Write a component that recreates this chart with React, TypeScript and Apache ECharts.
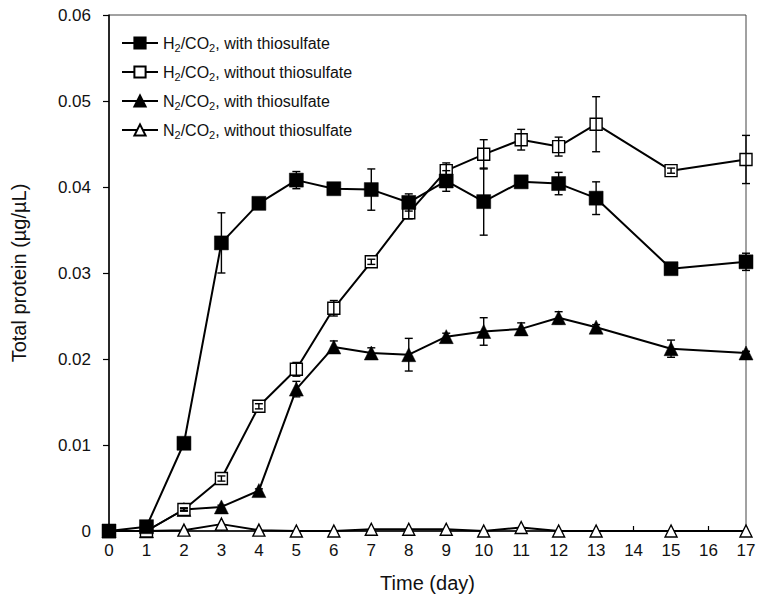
import React, { useEffect, useRef } from "react";
import * as echarts from "echarts";

const days = [0, 1, 2, 3, 4, 5, 6, 7, 8, 9, 10, 11, 12, 13, 15, 17];

const h2With = [0, 0.0005, 0.0102, 0.0335, 0.0381, 0.0408, 0.0398, 0.0397, 0.0382, 0.0407, 0.0383, 0.0406, 0.0404, 0.0387, 0.0305, 0.0313];
const h2WithErr = [0, 0, 0, 0.0035, 0.0003, 0.001, 0.0003, 0.0024, 0.001, 0.0012, 0.0039, 0.0004, 0.0013, 0.0019, 0.0002, 0.001];

const h2Without = [0, 0, 0.0025, 0.0061, 0.0145, 0.0188, 0.0259, 0.0313, 0.037, 0.0419, 0.0438, 0.0455, 0.0447, 0.0473, 0.0419, 0.0432];
const h2WithoutErr = [0, 0, 0.0002, 0.0003, 0.0003, 0.0008, 0.0009, 0.0003, 0.0007, 0.0009, 0.0017, 0.0012, 0.0011, 0.0032, 0.0003, 0.0028];

const n2With = [0, 0, 0.0025, 0.0028, 0.0047, 0.0165, 0.0214, 0.0207, 0.0205, 0.0226, 0.0232, 0.0235, 0.0248, 0.0237, 0.0212, 0.0207];
const n2WithErr = [0, 0, 0.0001, 0.0002, 0.0002, 0.0009, 0.0007, 0.0006, 0.0019, 0.0004, 0.0016, 0.0007, 0.0007, 0.0003, 0.001, 0.0002];

const n2Without = [0, 0, 0.0001, 0.0008, 0.0001, 0, 0, 0.0002, 0.0002, 0.0002, 0, 0.0004, 0, 0, 0, 0];
const n2WithoutErr = [0, 0, 0, 0, 0, 0, 0, 0, 0, 0, 0, 0, 0, 0, 0, 0];

const seriesNames = [
  "H2/CO2, with thiosulfate",
  "H2/CO2, without thiosulfate",
  "N2/CO2, with thiosulfate",
  "N2/CO2, without thiosulfate",
];

const xAxisTitle = "Time (day)";
const yAxisTitle = "Total protein (µg/µL)";

const FONT = "'Liberation Sans', Arial, sans-serif";
const INK = "#111";

function errData(vals: number[], errs: number[]) {
  const out: number[][] = [];
  vals.forEach((v, i) => {
    if (errs[i] > 0) out.push([days[i], v - errs[i], v + errs[i]]);
  });
  return out;
}

function errorSeries(vals: number[], errs: number[]) {
  return {
    type: "custom",
    silent: true,
    z: 5,
    data: errData(vals, errs),
    encode: { x: 0, y: [1, 2] },
    renderItem: (params: any, api: any) => {
      const x = api.value(0);
      const lo = api.coord([x, api.value(1)]);
      const hi = api.coord([x, api.value(2)]);
      const cw = 4;
      const style = { stroke: "#000", lineWidth: 1.4 };
      return {
        type: "group",
        children: [
          { type: "line", shape: { x1: lo[0], y1: lo[1], x2: hi[0], y2: hi[1] }, style },
          { type: "line", shape: { x1: lo[0] - cw, y1: lo[1], x2: lo[0] + cw, y2: lo[1] }, style },
          { type: "line", shape: { x1: hi[0] - cw, y1: hi[1], x2: hi[0] + cw, y2: hi[1] }, style },
        ],
      };
    },
  };
}

function lineSeries(name: string, vals: number[], symbol: string, size: number, filled: boolean) {
  return {
    name,
    type: "line",
    data: days.map((d, i) => [d, vals[i]]),
    symbol,
    symbolSize: size,
    showAllSymbol: true,
    z: 3,
    lineStyle: { color: "#000", width: 2 },
    itemStyle: filled
      ? { color: "#000", borderColor: "#000", borderWidth: 0.5 }
      : { color: "#fff", borderColor: "#000", borderWidth: 1.4 },
    emphasis: { disabled: true },
  };
}

function legendFormatter(name: string) {
  return "{n|" + name.split("2").join("}{s|2}{n|") + "}";
}

export default function App() {
  const ref = useRef<HTMLDivElement>(null);
  useEffect(() => {
    document.body.style.margin = "0";
    const chart = echarts.init(ref.current!, null, { renderer: "svg" });
    chart.setOption({
      animation: false,
      backgroundColor: "#fff",
      textStyle: { fontFamily: FONT },
      grid: {
        left: 109,
        right: 17,
        top: 15,
        bottom: 73,
        show: true,
        borderColor: "#444",
        borderWidth: 1,
        backgroundColor: "transparent",
      },
      legend: {
        left: 121,
        top: 35,
        orient: "vertical",
        itemWidth: 36,
        itemHeight: 14,
        itemGap: 11,
        padding: 0,
        selectedMode: false,
        data: seriesNames,
        formatter: legendFormatter,
        textStyle: {
          fontFamily: FONT,
          color: INK,
          rich: {
            n: { fontSize: 16, lineHeight: 20, fontFamily: FONT, color: INK },
            s: { fontSize: 11, lineHeight: 9, verticalAlign: "bottom", fontFamily: FONT, color: INK },
          },
        },
      },
      xAxis: {
        type: "value",
        min: 0,
        max: 17,
        interval: 1,
        name: xAxisTitle,
        nameLocation: "middle",
        nameGap: 42,
        nameTextStyle: { fontSize: 20, color: INK, fontFamily: FONT },
        axisLine: { show: true, onZero: false, lineStyle: { color: "#000", width: 1.5 } },
        axisTick: { show: true, inside: true, length: 5, lineStyle: { color: "#000", width: 1.2 } },
        axisLabel: { fontSize: 17, color: INK, margin: 11, fontFamily: FONT },
        splitLine: { show: false },
      },
      yAxis: {
        type: "value",
        min: 0,
        max: 0.06,
        interval: 0.01,
        name: yAxisTitle,
        nameLocation: "middle",
        nameGap: 80,
        nameTextStyle: { fontSize: 20, color: INK, fontFamily: FONT },
        axisLine: { show: true, lineStyle: { color: "#000", width: 1.5 } },
        axisTick: { show: true, inside: false, length: 6, lineStyle: { color: "#000", width: 1.2 } },
        axisLabel: {
          fontSize: 17,
          color: INK,
          margin: 18,
          fontFamily: FONT,
          formatter: (v: number) => (v === 0 ? "0" : v.toFixed(2)),
        },
        splitLine: { show: false },
      },
      series: [
        lineSeries(seriesNames[3], n2Without, "triangle", 12, false),
        lineSeries(seriesNames[2], n2With, "triangle", 14, true),
        lineSeries(seriesNames[1], h2Without, "rect", 12, false),
        lineSeries(seriesNames[0], h2With, "rect", 14, true),
        errorSeries(h2With, h2WithErr),
        errorSeries(h2Without, h2WithoutErr),
        errorSeries(n2With, n2WithErr),
        errorSeries(n2Without, n2WithoutErr),
      ],
    });
    return () => chart.dispose();
  }, []);
  return <div ref={ref} style={{ width: 763, height: 604 }} />;
}
